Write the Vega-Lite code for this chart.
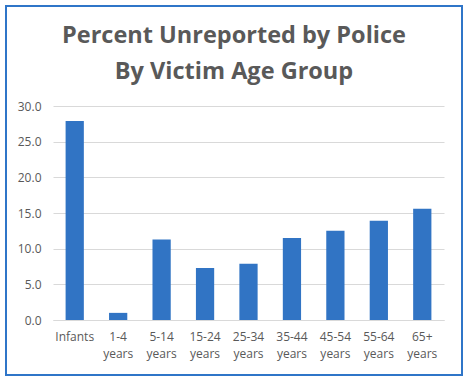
{
  "$schema": "https://vega.github.io/schema/vega-lite/v6.json",
  "autosize": {"type": "none"},
  "padding": {"left": 6, "top": 6, "right": 6, "bottom": 9},
  "width": 456,
  "height": 369,
  "background": "white",
  "title": {
    "text": ["Percent Unreported by Police", "By Victim Age Group"],
    "orient": "top",
    "anchor": "middle",
    "frame": "group",
    "offset": -77,
    "font": "Open Sans",
    "fontSize": 23.5,
    "fontWeight": "bold",
    "color": "#595959",
    "lineHeight": 35.5
  },
  "data": {
    "values": [
      {"group": "Infants", "pct": 27.9},
      {"group": "1-4 years", "pct": 1.0},
      {"group": "5-14 years", "pct": 11.3},
      {"group": "15-24 years", "pct": 7.3},
      {"group": "25-34 years", "pct": 7.9},
      {"group": "35-44 years", "pct": 11.5},
      {"group": "45-54 years", "pct": 12.5},
      {"group": "55-64 years", "pct": 13.9},
      {"group": "65+ years", "pct": 15.6}
    ]
  },
  "mark": {"type": "bar", "color": "#3174c4"},
  "encoding": {
    "x": {
      "field": "group",
      "type": "nominal",
      "sort": null,
      "scale": {"range": [47, 438], "paddingInner": 0.58, "paddingOuter": 0.29},
      "axis": {
        "title": null,
        "offset": -55,
        "labelAngle": 0,
        "labelExpr": "split(datum.label, ' ')",
        "labelLineHeight": 17.5,
        "labelFont": "Open Sans",
        "labelFontSize": 12,
        "labelColor": "#595959",
        "labelPadding": 11,
        "ticks": false,
        "tickSize": 0,
        "domainColor": "#d9d9d9",
        "domainWidth": 1,
        "grid": false
      }
    },
    "y": {
      "field": "pct",
      "type": "quantitative",
      "scale": {"domain": [0, 30], "range": [314, 100], "nice": false, "zero": true},
      "axis": {
        "title": null,
        "offset": -47,
        "values": [0, 5, 10, 15, 20, 25, 30],
        "format": ".1f",
        "labelFont": "Open Sans",
        "labelFontSize": 12,
        "labelColor": "#595959",
        "labelPadding": 12,
        "ticks": false,
        "tickSize": 0,
        "domain": false,
        "grid": true,
        "gridColor": "#d9d9d9",
        "gridWidth": 1
      }
    }
  },
  "config": {
    "view": {"stroke": "#2f75c8", "strokeWidth": 2, "fill": "white"}
  }
}
